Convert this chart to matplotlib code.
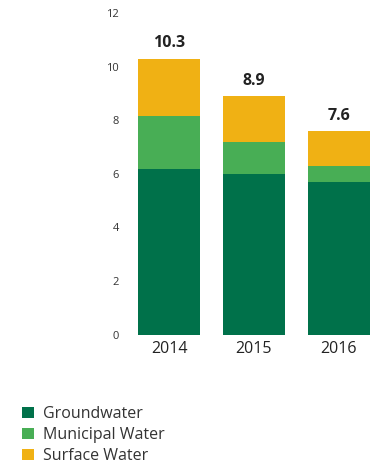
import matplotlib
matplotlib.use("Agg")
import matplotlib.pyplot as plt

# Water withdrawal by source (stacked)
years = ["2014", "2015", "2016"]
groundwater = [6.2, 6.0, 5.7]
municipal = [1.95, 1.2, 0.6]
surface = [2.15, 1.7, 1.3]
totals = [10.3, 8.9, 7.6]

colors = {
    "Groundwater": "#00714A",
    "Municipal Water": "#48AE55",
    "Surface Water": "#F0B114",
}

plt.rcParams["font.family"] = ["Open Sans", "DejaVu Sans"]

fig = plt.figure(figsize=(3.73, 4.65), dpi=100)
ax = fig.add_axes([130 / 373, 1 - 334.5 / 465, 242 / 373, (334.5 - 13.3) / 465])

x = range(len(years))
width = 0.73
b1 = ax.bar(x, groundwater, width, color=colors["Groundwater"], label="Groundwater")
b2 = ax.bar(x, municipal, width, bottom=groundwater,
            color=colors["Municipal Water"], label="Municipal Water")
base = [g + m for g, m in zip(groundwater, municipal)]
b3 = ax.bar(x, surface, width, bottom=base,
            color=colors["Surface Water"], label="Surface Water")

# total labels above each bar
for i, t in enumerate(totals):
    ax.text(i, t + 0.28, f"{t:.1f}", ha="center", va="bottom",
            fontsize=11.5, fontweight="bold", color="#222222")

ax.set_xlim(-0.46, 2.39)
ax.set_ylim(0, 12)
ax.set_yticks(range(0, 13, 2))
ax.set_xticks(list(x))
ax.set_xticklabels(years, fontsize=11.5, color="#222222")
ax.tick_params(axis="y", length=0, pad=8, labelsize=8, labelcolor="#333333")
ax.tick_params(axis="x", length=0, pad=5)
for s in ax.spines.values():
    s.set_visible(False)

fig.legend(handles=[b1, b2, b3], loc="upper left",
           bbox_to_anchor=(8 / 373, 1 - 392 / 465), frameon=False,
           fontsize=11.5, handlelength=0.7, handleheight=0.7,
           handletextpad=0.6, labelspacing=0.3, labelcolor="#333333")

fig.savefig("out.png", dpi=100)
